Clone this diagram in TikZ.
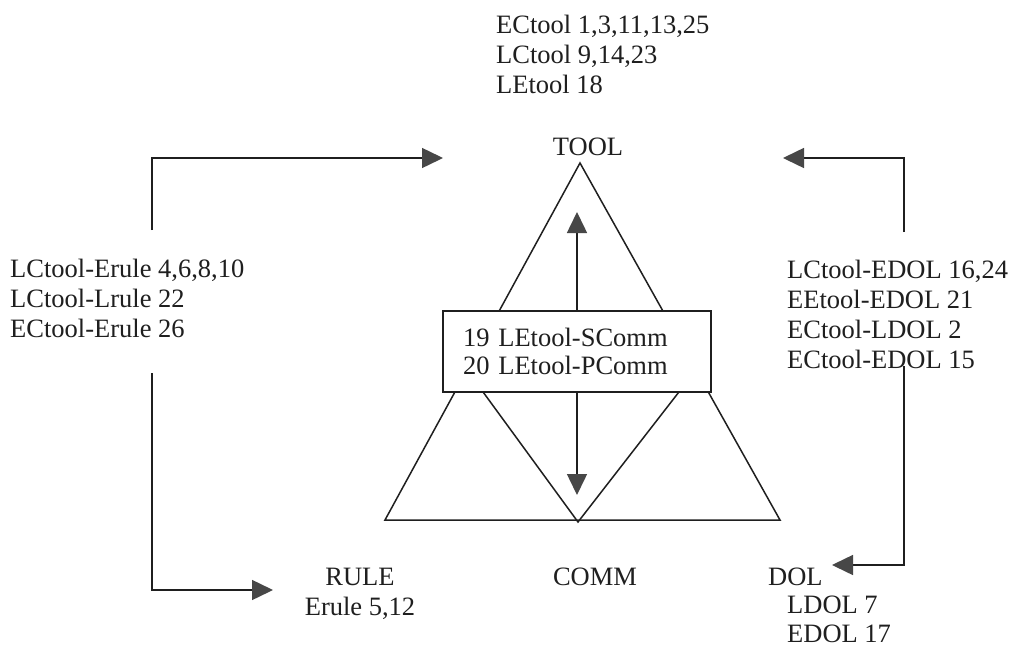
\documentclass[tikz,border=0pt]{standalone}
\usepackage{fontspec}
\setmainfont{Liberation Serif}
\usetikzlibrary{arrows.meta}
\newcommand\tlines[1]{\begin{tabular}[t]{@{}l@{}}#1\end{tabular}}
\newcommand\tclines[1]{\begin{tabular}[t]{@{}c@{}}#1\end{tabular}}
\begin{document}
\begin{tikzpicture}[x=1pt,y=-1pt,
  txt/.style={inner sep=0pt, anchor=base west, text=black!88, font=\fontsize{26.5}{30}\selectfont},
  ctxt/.style={txt, anchor=base},
  tri/.style={draw=black!88, line width=1.5pt, line join=miter},
  conn/.style={draw=black!88, line width=1.5pt, -{Triangle[length=21pt,width=20pt,color=black!72]}}]
\useasboundingbox (0,0) rectangle (1013,648);
\fill[white] (0,0) rectangle (1013,648);
% triangle
\coordinate (A) at (580,163);
\coordinate (BL) at (385,520);
\coordinate (BR) at (780,520);
\coordinate (M) at (578,522);
\coordinate (IL) at (467,370);
\coordinate (IR) at (696,370);
\draw[tri] (A) -- (BL) -- (BR) -- cycle;
\draw[tri] (IL) -- (M) -- (IR);
% texts
\node[txt] (top) at (496,33) {\tlines{ECtool 1,3,11,13,25\\LCtool 9,14,23\\LEtool 18}};
\node[ctxt] (tool) at (588,155) {TOOL};
\node[txt] (left) at (10,277) {\tlines{LCtool-Erule 4,6,8,10\\LCtool-Lrule 22\\ECtool-Erule 26}};
\node[txt] (right) at (787,278) {\tlines{LCtool-EDOL 16,24\\EEtool-EDOL 21\\ECtool-LDOL 2\\ECtool-EDOL 15}};
\node[ctxt] (rule) at (360,585) {\tclines{RULE\\Erule 5,12}};
\node[ctxt] (comm) at (595,585) {COMM};
\node[txt, font=\fontsize{26.5}{28.5}\selectfont] (dol) at (768,585) {\tlines{DOL\\\hspace*{19pt}LDOL 7\\\hspace*{19pt}EDOL 17}};
% central box
\node[draw=black!88, line width=1.5pt, fill=white, text=black!88, minimum height=81pt,
      text width=228pt, inner xsep=20pt, inner ysep=0pt, align=left,
      font=\fontsize{26.5}{28}\selectfont] (box) at (577,351.5) {19 LEtool-SComm\\20 LEtool-PComm};
\coordinate (up) at (577,212);
\coordinate (dn) at (577,495);
\draw[conn] (box.north) -- (up);
\draw[conn] (box.south) -- (dn);
% side connectors
\coordinate (l1) at (152,230);
\coordinate (l2) at (443,158);
\coordinate (l3) at (152,373);
\coordinate (l4) at (273,590);
\coordinate (r1) at (904,232);
\coordinate (r2) at (783,158);
\coordinate (r3) at (904,366);
\coordinate (r4) at (832,565);
\draw[conn] (l1) |- (l2);
\draw[conn] (l3) |- (l4);
\draw[conn] (r1) |- (r2);
\draw[conn] (r3) |- (r4);
\end{tikzpicture}
\end{document}
